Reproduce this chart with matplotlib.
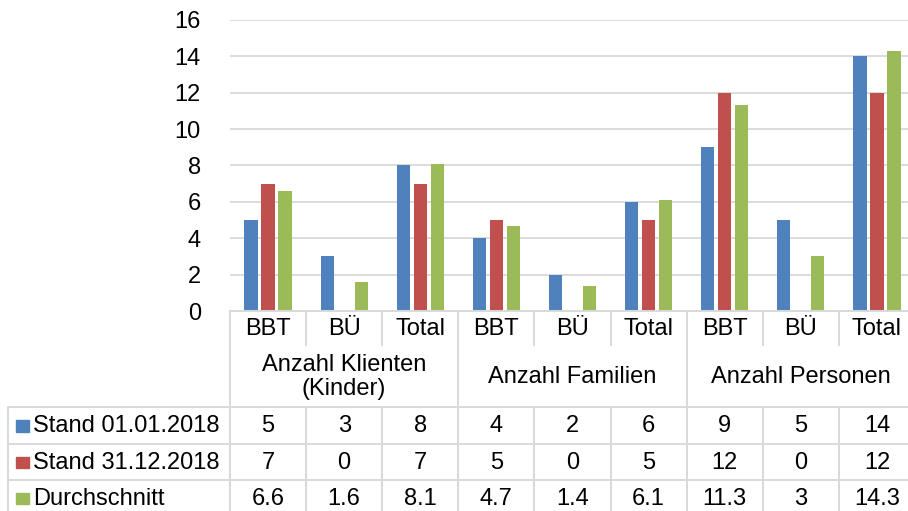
import matplotlib
matplotlib.use("Agg")
import matplotlib.pyplot as plt
from matplotlib.lines import Line2D
from matplotlib.patches import Rectangle
import matplotlib.transforms as mtransforms

plt.rcParams['font.family'] = ['Liberation Sans', 'DejaVu Sans']

categories = ["BBT", "BÜ", "Total", "BBT", "BÜ", "Total", "BBT", "BÜ", "Total"]
groups = ["Anzahl Klienten\n(Kinder)", "Anzahl Familien", "Anzahl Personen"]
series_names = ["Stand 01.01.2018", "Stand 31.12.2018", "Durchschnitt"]
stand_0101 = [5, 3, 8, 4, 2, 6, 9, 5, 14]
stand_3112 = [7, 0, 7, 5, 0, 5, 12, 0, 12]
durchschnitt = [6.6, 1.6, 8.1, 4.7, 1.4, 6.1, 11.3, 3, 14.3]
labels_0101 = ["5", "3", "8", "4", "2", "6", "9", "5", "14"]
labels_3112 = ["7", "0", "7", "5", "0", "5", "12", "0", "12"]
labels_avg = ["6.6", "1.6", "8.1", "4.7", "1.4", "6.1", "11.3", "3", "14.3"]
yticks = [0, 2, 4, 6, 8, 10, 12, 14, 16]

colors = ["#4F81BD", "#C0504D", "#9BBB59"]
grid_c = "#D9D9D9"
W, H = 908, 511
FS = 17

fig = plt.figure(figsize=(W / 100, H / 100), dpi=100)
# plot area in pixels
px_left, px_right, px_top, px_bottom = 230, 915, 20, 311
ax = fig.add_axes([px_left / W, 1 - px_bottom / H, (px_right - px_left) / W, (px_bottom - px_top) / H])
ax.set_xlim(0, len(categories))
ax.set_ylim(0, 16)
ax.set_yticks(yticks)
ax.set_yticklabels([str(t) for t in yticks], fontsize=FS)
ax.tick_params(axis='y', length=0, pad=21)
ax.set_xticks([])
for s in ax.spines.values():
    s.set_visible(False)
ax.yaxis.grid(True, color=grid_c, lw=1.3)
ax.set_axisbelow(True)

xs = [i + 0.5 for i in range(len(categories))]
step = 17 / 76.1
bw = 13.3 / 76.1
for k, vals in enumerate([stand_0101, stand_3112, durchschnitt]):
    ax.bar([x + (k - 1) * step for x in xs], vals, width=bw, color=colors[k], zorder=3)

# blended transform: x in data units, y in figure pixels (from top)
def ypx(p):
    return 1 - p / H

bt = mtransforms.blended_transform_factory(ax.transData, fig.transFigure)
ft = fig.transFigure
lw_t = 1.4

def hline(x0, x1, y, trans):
    fig.add_artist(Line2D([x0, x1], [ypx(y), ypx(y)], transform=trans, color=grid_c, lw=lw_t, clip_on=False))

def vline(x, y0, y1, trans):
    fig.add_artist(Line2D([x, x], [ypx(y0), ypx(y1)], transform=trans, color=grid_c, lw=lw_t, clip_on=False))

ncat = len(categories)
row_cat = (311, 345)
row_grp = (345, 407)
rows = [(407, 444), (444, 480), (480, 516)]

# horizontal lines
hline(0, ncat, 311, bt)
for y in [407, 444, 480]:
    fig.add_artist(Line2D([8 / W, 1.01], [ypx(y), ypx(y)], transform=ft, color=grid_c, lw=lw_t, clip_on=False))
# vertical lines
for i in range(ncat + 1):
    if i % 3 == 0:
        vline(i, 311, 520, bt)
    else:
        vline(i, 311, 345, bt)
        vline(i, 407, 520, bt)
fig.add_artist(Line2D([8 / W, 8 / W], [ypx(407), ypx(520)], transform=ft, color=grid_c, lw=lw_t, clip_on=False))

# category labels
for x, c in zip(xs, categories):
    fig.text(x, ypx(328.5), c, transform=bt, ha='center', va='center', fontsize=FS)
# group labels
for g, name in enumerate(groups):
    fig.text(g * 3 + 1.5, ypx(377), name, transform=bt, ha='center', va='center', fontsize=FS, linespacing=1.15)

# data rows
for r, (name, labs) in enumerate(zip(series_names, [labels_0101, labels_3112, labels_avg])):
    y0, y1 = rows[r]
    yc = (y0 + y1) / 2 + 0.5
    fig.add_artist(Rectangle((16 / W, ypx(yc + 5.5)), 13 / W, 11.5 / H, transform=ft, color=colors[r]))
    fig.text(33 / W, ypx(yc), name, transform=ft, ha='left', va='center', fontsize=FS)
    for x, t in zip(xs, labs):
        fig.text(x, ypx(yc), t, transform=bt, ha='center', va='center', fontsize=FS)

fig.savefig("out.png", dpi=100)
